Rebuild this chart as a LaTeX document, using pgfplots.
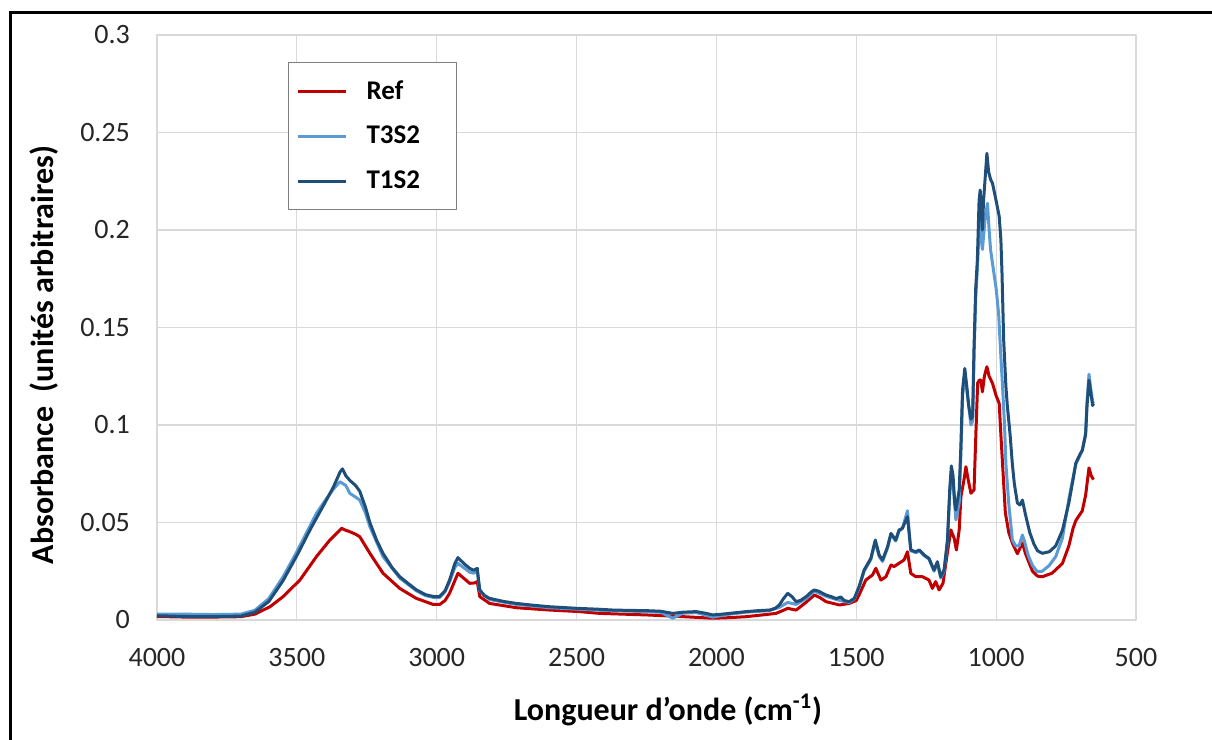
\documentclass[border=0pt]{standalone}
\usepackage{pgfplots}
\pgfplotsset{compat=1.18}
\usepackage{fontspec}
\setmainfont{Carlito}
\definecolor{cref}{HTML}{C00000}
\definecolor{clight}{HTML}{5B9BD5}
\definecolor{cdark}{HTML}{1F4E79}
\definecolor{cgrid}{HTML}{D9D9D9}
\definecolor{clegbox}{HTML}{7F7F7F}
\begin{document}
\begin{tikzpicture}[x=1pt,y=1pt]
\path[use as bounding box] (0,0) rectangle (606,370);
\draw[line width=1.5pt] (5,-10) -- (5,363.5) -- (620,363.5);
\begin{axis}[
  at={(78.5pt,60pt)}, anchor=south west,
  scale only axis, width=489.5pt, height=292.5pt,
  x dir=reverse, xmin=500, xmax=4000, ymin=0, ymax=0.3,
  xtick={500,1000,1500,2000,2500,3000,3500,4000},
  ytick={0,0.05,0.1,0.15,0.2,0.25,0.3},
  scaled y ticks=false, scaled x ticks=false,
  /pgf/number format/assume math mode=true,
  xticklabel style={/pgf/number format/1000 sep={}, yshift=-10.5pt},
  yticklabel style={/pgf/number format/fixed, /pgf/number format/precision=2, xshift=-10pt},
  tick label style={font=\fontsize{14}{16}\selectfont, text=black!85},
  major tick length=0pt,
  grid=major, grid style={cgrid, line width=0.6pt},
  axis line style={cgrid, line width=0.8pt},
  xlabel={Longueur d’onde (cm\textsuperscript{-1})},
  ylabel={Absorbance\ \ (unités arbitraires)},
  label style={font=\fontsize{16}{18}\bfseries\selectfont},
  xlabel style={at={(axis description cs:0.522,-0.1538)}, anchor=center},
  ylabel style={at={(axis description cs:-0.1154,0.453)}, anchor=center},
  legend style={at={(0.1338,0.954)}, anchor=north west, draw=clegbox, line width=0.6pt,
    font=\fontsize{13.5}{15}\bfseries\selectfont, row sep=8pt, inner xsep=4pt, inner ysep=7pt,
    /tikz/every odd column/.append style={column sep=7.5pt}},
  legend cell align=left,
  legend image code/.code={\draw[#1, line width=1.5pt] (0pt,0pt) -- (24pt,0pt);},
  line join=round,
]
\addplot[cref, line width=1.5pt] coordinates {
(4000,0.0018) (3900,0.0015) (3800,0.0015) (3700,0.0017) (3650,0.0030) (3596,0.0068)
(3549,0.0120) (3489,0.0205) (3430,0.0325) (3382,0.0410) (3340,0.0470) (3325,0.0460)
(3311,0.0453) (3290,0.0440) (3275,0.0427) (3255,0.0380) (3239,0.0342) (3192,0.0240)
(3132,0.0162) (3073,0.0111) (3013,0.0080) (2989,0.0080) (2970,0.0100) (2954,0.0137)
(2924,0.0240) (2900,0.0210) (2882,0.0188) (2865,0.0190) (2855,0.0197) (2846,0.0120)
(2811,0.0085) (2715,0.0063) (2596,0.0051) (2489,0.0043) (2418,0.0034) (2251,0.0026)
(2156,0.0020) (2013,0.0009) (1953,0.0012) (1894,0.0017) (1810,0.0030) (1787,0.0034)
(1760,0.0050) (1745,0.0060) (1730,0.0055) (1715,0.0051) (1680,0.0090) (1650,0.0128)
(1630,0.0115) (1608,0.0094) (1560,0.0077) (1525,0.0085) (1500,0.0100) (1490,0.0128)
(1466,0.0205) (1442,0.0231) (1430,0.0265) (1412,0.0205) (1394,0.0222) (1376,0.0282)
(1365,0.0274) (1347,0.0291) (1329,0.0308) (1317,0.0350) (1305,0.0239) (1287,0.0222)
(1263,0.0222) (1240,0.0205) (1228,0.0162) (1216,0.0197) (1204,0.0154) (1190,0.0188)
(1178,0.0308) (1162,0.0462) (1150,0.0419) (1142,0.0359) (1132,0.0462) (1126,0.0632)
(1115,0.0718) (1108,0.0786) (1100,0.0720) (1090,0.0650) (1079,0.0667) (1072,0.0970)
(1066,0.1215) (1060,0.1230) (1055,0.1231) (1049,0.1170) (1042,0.1250) (1033,0.1299)
(1025,0.1250) (1013,0.1214) (1000,0.1150) (989,0.1111) (983,0.0950) (977,0.0800)
(967,0.0550) (955,0.0450) (942,0.0395) (924,0.0340) (906,0.0395) (895,0.0340)
(870,0.0250) (852,0.0225) (835,0.0222) (800,0.0240) (763,0.0290) (740,0.0380)
(725,0.0470) (715,0.0510) (692,0.0560) (680,0.0640) (668,0.0780) (660,0.0740) (652,0.0720)
};
\addlegendentry{\makebox[39pt][l]{Ref}}
\addplot[clight, line width=1.5pt] coordinates {
(4000,0.0030) (3900,0.0030) (3800,0.0028) (3700,0.0030) (3650,0.0050) (3600,0.0110)
(3549,0.0222) (3500,0.0350) (3430,0.0547) (3400,0.0610) (3370,0.0670) (3346,0.0709)
(3325,0.0690) (3311,0.0650) (3290,0.0630) (3275,0.0615) (3255,0.0550) (3239,0.0479)
(3192,0.0325) (3132,0.0215) (3073,0.0150) (3040,0.0125) (3010,0.0115) (2990,0.0115)
(2970,0.0145) (2954,0.0195) (2935,0.0270) (2924,0.0291) (2905,0.0270) (2882,0.0245)
(2868,0.0240) (2855,0.0250) (2846,0.0150) (2811,0.0105) (2715,0.0080) (2596,0.0063)
(2500,0.0056) (2418,0.0050) (2300,0.0045) (2200,0.0040) (2156,0.0009) (2120,0.0035)
(2072,0.0038) (2013,0.0015) (1953,0.0030) (1894,0.0040) (1810,0.0048) (1775,0.0065)
(1745,0.0090) (1715,0.0080) (1679,0.0110) (1650,0.0148) (1608,0.0122) (1572,0.0105)
(1543,0.0095) (1525,0.0090) (1507,0.0108) (1490,0.0165) (1472,0.0250) (1448,0.0310)
(1432,0.0400) (1418,0.0325) (1406,0.0300) (1388,0.0370) (1376,0.0440) (1359,0.0405)
(1347,0.0455) (1335,0.0470) (1317,0.0560) (1305,0.0355) (1287,0.0345) (1275,0.0355)
(1257,0.0330) (1240,0.0312) (1222,0.0250) (1210,0.0290) (1198,0.0215) (1186,0.0250)
(1174,0.0400) (1166,0.0640) (1160,0.0760) (1154,0.0700) (1144,0.0513) (1132,0.0600)
(1126,0.0850) (1120,0.1150) (1112,0.1250) (1105,0.1180) (1090,0.1000) (1084,0.1020)
(1079,0.1350) (1073,0.1650) (1067,0.1800) (1061,0.2000) (1057,0.2050) (1053,0.1950)
(1049,0.1900) (1040,0.2050) (1031,0.2137) (1025,0.2000) (1020,0.1900) (1013,0.1830)
(1000,0.1700) (991,0.1570) (983,0.1350) (977,0.1197) (970,0.1000) (965,0.0800)
(955,0.0600) (942,0.0410) (930,0.0380) (918,0.0380) (906,0.0436) (898,0.0400)
(885,0.0330) (870,0.0280) (853,0.0248) (835,0.0250) (810,0.0280) (787,0.0325)
(763,0.0420) (740,0.0620) (725,0.0730) (715,0.0800) (692,0.0870) (680,0.0960)
(675,0.1120) (668,0.1260) (662,0.1190) (655,0.1120) (652,0.1110)
};
\addlegendentry{\makebox[39pt][l]{T3S2}}
\addplot[cdark, line width=1.5pt] coordinates {
(4000,0.0022) (3900,0.0018) (3800,0.0017) (3700,0.0020) (3650,0.0040) (3600,0.0095)
(3550,0.0200) (3500,0.0330) (3450,0.0470) (3400,0.0600) (3370,0.0680) (3345,0.0760)
(3337,0.0775) (3325,0.0740) (3310,0.0715) (3290,0.0690) (3275,0.0660) (3255,0.0580)
(3239,0.0500) (3215,0.0410) (3192,0.0342) (3160,0.0270) (3132,0.0222) (3100,0.0185)
(3073,0.0155) (3040,0.0130) (3010,0.0120) (2990,0.0120) (2970,0.0150) (2954,0.0205)
(2935,0.0290) (2924,0.0320) (2910,0.0300) (2895,0.0280) (2882,0.0265) (2868,0.0255)
(2855,0.0265) (2850,0.0200) (2846,0.0155) (2830,0.0125) (2811,0.0111) (2760,0.0095)
(2715,0.0085) (2650,0.0075) (2596,0.0068) (2500,0.0060) (2418,0.0055) (2370,0.0051)
(2300,0.0049) (2251,0.0048) (2200,0.0045) (2156,0.0034) (2120,0.0040) (2072,0.0043)
(2040,0.0035) (2013,0.0026) (1980,0.0030) (1953,0.0034) (1894,0.0043) (1850,0.0048)
(1810,0.0051) (1790,0.0060) (1775,0.0077) (1760,0.0110) (1745,0.0137) (1730,0.0120)
(1715,0.0094) (1700,0.0100) (1679,0.0120) (1660,0.0145) (1650,0.0154) (1635,0.0148)
(1608,0.0128) (1590,0.0120) (1572,0.0110) (1555,0.0118) (1543,0.0100) (1525,0.0094)
(1507,0.0111) (1490,0.0171) (1472,0.0256) (1448,0.0316) (1432,0.0410) (1418,0.0333)
(1406,0.0308) (1388,0.0376) (1376,0.0444) (1359,0.0410) (1347,0.0462) (1335,0.0470)
(1317,0.0530) (1305,0.0359) (1287,0.0350) (1275,0.0359) (1257,0.0333) (1240,0.0316)
(1222,0.0256) (1210,0.0299) (1198,0.0222) (1186,0.0256) (1174,0.0410) (1166,0.0667)
(1160,0.0790) (1154,0.0740) (1148,0.0600) (1144,0.0564) (1132,0.0667) (1126,0.0890)
(1120,0.1180) (1112,0.1290) (1105,0.1200) (1098,0.1100) (1090,0.1030) (1084,0.1043)
(1079,0.1400) (1073,0.1700) (1067,0.1850) (1061,0.2150) (1057,0.2205) (1053,0.2100)
(1049,0.2000) (1045,0.2150) (1040,0.2250) (1033,0.2393) (1027,0.2300) (1020,0.2260)
(1013,0.2240) (1000,0.2150) (989,0.2070) (983,0.1950) (979,0.1780) (973,0.1436)
(965,0.1197) (960,0.1100) (950,0.0950) (942,0.0800) (935,0.0700) (924,0.0600)
(915,0.0590) (906,0.0615) (895,0.0540) (880,0.0450) (865,0.0390) (852,0.0355)
(835,0.0342) (810,0.0350) (787,0.0380) (763,0.0460) (740,0.0600) (725,0.0720)
(715,0.0805) (700,0.0850) (692,0.0870) (680,0.0950) (675,0.1100) (668,0.1230)
(662,0.1170) (655,0.1100) (652,0.1110)
};
\addlegendentry{\makebox[39pt][l]{T1S2}}
\end{axis}
\end{tikzpicture}
\end{document}
